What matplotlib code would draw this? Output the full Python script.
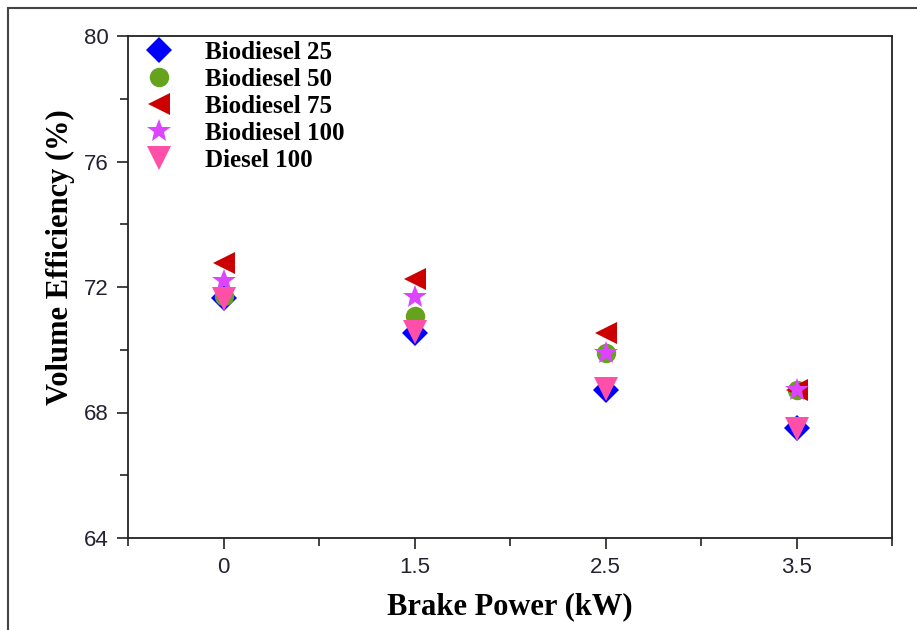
import numpy as np
import matplotlib.pyplot as plt
from matplotlib.patches import Rectangle

# brake power categories (kW)
power_labels = ['0', '1.5', '2.5', '3.5']

# volume efficiency (%) for each fuel blend
bd25 = [71.64, 70.52, 68.71, 67.50]
bd50 = [71.72, 71.06, 69.90, 68.72]
bd75 = [72.78, 72.24, 70.52, 68.71]
bd100 = [72.18, 71.67, 69.89, 68.71]
diesel100 = [71.62, 70.55, 68.74, 67.48]

series_names = ['Biodiesel 25', 'Biodiesel 50', 'Biodiesel 75', 'Biodiesel 100', 'Diesel 100']
series_vals = [bd25, bd50, bd75, bd100, diesel100]
markers = ['D', 'o', '<', '*', 'v']
colors = ['#0000FF', '#66A31C', '#CC0000', '#DD44FF', '#FF4FA8']
sizes = [13, 14, 16, 18, 17]

serif = 'Liberation Serif'
sans = 'Liberation Sans'

fig = plt.figure(figsize=(9.17, 6.30), dpi=100)
ax = fig.add_axes([128/917, 92/630, (892-128)/917, (538-36)/630])

xpos = np.arange(len(power_labels))
for name, vals, m, c, s in zip(series_names, series_vals, markers, colors, sizes):
    ax.plot(xpos, vals, linestyle='none', marker=m, color=c, markersize=s,
            markeredgewidth=0, label=name)

ax.set_xlim(-0.5, 3.5)
ax.set_ylim(64, 80)
ax.set_xticks(xpos)
ax.set_xticklabels(power_labels)
ax.set_xticks(np.arange(-0.5, 3.6, 1.0), minor=True)
ax.set_yticks([64, 68, 72, 76, 80])
ax.set_yticks([66, 70, 74, 78], minor=True)

ax.tick_params(which='both', direction='out', width=1.2, color='#222222',
               top=False, right=False)
ax.tick_params(which='major', length=8, labelsize=16, pad=6)
ax.tick_params(which='minor', length=6)
for lab in ax.get_xticklabels() + ax.get_yticklabels():
    lab.set_family(sans)
    lab.set_color('#222233')
for sp in ax.spines.values():
    sp.set_linewidth(1.3)
    sp.set_color('#222222')

ax.set_xlabel('Brake Power (kW)', fontfamily=serif, fontweight='bold',
              fontsize=22, labelpad=10)
ax.set_ylabel('Volume Efficiency (%)', fontfamily=serif, fontweight='bold',
              fontsize=22)
ax.yaxis.set_label_coords(-0.07, 0.56)

leg = ax.legend(loc='upper left', bbox_to_anchor=(-0.012, 1.035), frameon=False,
                prop={'family': serif, 'weight': 'bold', 'size': 18},
                labelspacing=0.16, handletextpad=1.15, handlelength=1.4,
                markerscale=1.0)

# outer frame around the figure
fig.add_artist(Rectangle((8/917, -0.1), 1.0, (630-8)/630 + 0.1,
                         transform=fig.transFigure, fill=False,
                         edgecolor='#444444', linewidth=1.5))

fig.savefig('out.png', dpi=100)
